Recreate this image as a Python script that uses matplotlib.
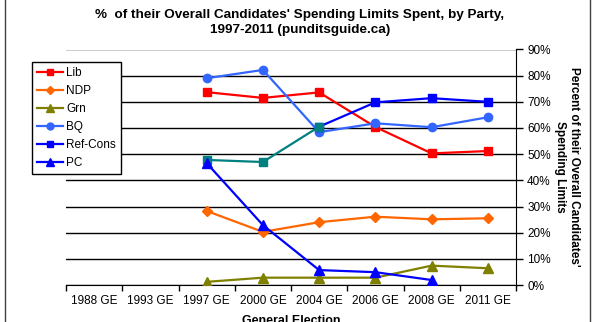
import numpy as np
import matplotlib
matplotlib.use("Agg")
import matplotlib.pyplot as plt
from matplotlib.lines import Line2D
from matplotlib.ticker import FixedLocator, FuncFormatter

plt.rcParams['font.family'] = ['Liberation Sans', 'DejaVu Sans']

elections = ["1988 GE", "1993 GE", "1997 GE", "2000 GE", "2004 GE", "2006 GE", "2008 GE", "2011 GE"]
nan = np.nan
lib = [nan, nan, 73.7, 71.5, 73.6, 60.4, 50.3, 51.2]
ndp = [nan, nan, 28.3, 20.3, 24.0, 26.1, 25.1, 25.5]
grn = [nan, nan, 1.2, 2.8, 2.8, 2.8, 7.4, 6.4]
bq = [nan, nan, 79.0, 82.2, 58.4, 61.8, 60.3, 64.1]
refcons = [nan, nan, 47.8, 47.0, 60.5, 69.8, 71.4, 70.0]
pc = [nan, nan, 46.6, 22.9, 5.7, 4.9, 1.9, nan]

x = np.arange(len(elections))
W, H = 596, 322
fig = plt.figure(figsize=(W / 100, H / 100), dpi=100)
ax = fig.add_axes([66 / W, 1 - 285 / H, 450 / W, 235.5 / H])

lw = 1.6
ax.plot(x, np.array(lib) / 100, color="#FF0000", lw=lw, marker="s", ms=6, zorder=3)
ax.plot(x, np.array(ndp) / 100, color="#FF6600", lw=lw, marker="D", ms=5, zorder=3)
ax.plot(x, np.array(grn) / 100, color="#808000", lw=lw, marker="^", ms=7, zorder=3)
ax.plot(x, np.array(bq) / 100, color="#3366FF", lw=lw, marker="o", ms=6, zorder=3)
# Reform years in teal, Conservative years in blue
rc = np.array(refcons) / 100
ax.plot(x[4:], rc[4:], color="#0000FF", lw=lw, marker="s", ms=6, zorder=3)
ax.plot(x[2:5], rc[2:5], color="#008080", lw=lw, marker="s", ms=6, zorder=3)
ax.plot(x, np.array(pc) / 100, color="#0000FF", lw=lw, marker="^", ms=7, zorder=3)

ax.set_xlim(-0.5, len(elections) - 0.5)
ax.set_ylim(0, 0.9)
ax.set_xticks(x)
ax.set_xticklabels(elections, fontsize=8.5)
ax.xaxis.set_minor_locator(FixedLocator(np.arange(-0.5, len(elections), 1)))
ax.tick_params(axis="x", which="major", length=0, pad=7)
ax.tick_params(axis="x", which="minor", length=4, width=1, color="black", direction="out")

ax.yaxis.tick_right()
ax.set_yticks(np.arange(0, 0.91, 0.1))
ax.yaxis.set_major_formatter(FuncFormatter(lambda v, p: f"{v * 100:.0f}%"))
ax.tick_params(axis="y", length=5, width=1, direction="out", labelsize=8.5, pad=3)
ax.grid(axis="y", color="black", lw=1)
ax.set_axisbelow(True)

for s in ["left", "top"]:
    ax.spines[s].set_visible(False)
ax.spines["right"].set_color("black")
ax.spines["bottom"].set_color("black")

fig.text(300 / W, 1 - 22.5 / H, "%  of their Overall Candidates' Spending Limits Spent, by Party,\n1997-2011 (punditsguide.ca)",
         ha="center", va="center", fontsize=9.7, fontweight="bold", linespacing=1.3)
fig.text(567 / W, 1 - 167 / H, "Percent of their Overall Candidates'\nSpending Limits",
         rotation=-90, ha="center", va="center", fontsize=8.5, fontweight="bold", multialignment="center")
fig.text(291 / W, 1 - 315 / H, "General Election", ha="center", va="top", fontsize=9, fontweight="bold")

handles = [
    Line2D([], [], color="#FF0000", lw=lw, marker="s", ms=5),
    Line2D([], [], color="#FF6600", lw=lw, marker="D", ms=4),
    Line2D([], [], color="#808000", lw=lw, marker="^", ms=6),
    Line2D([], [], color="#3366FF", lw=lw, marker="o", ms=5),
    Line2D([], [], color="#0000FF", lw=lw, marker="s", ms=5),
    Line2D([], [], color="#0000FF", lw=lw, marker="^", ms=6),
]
labels = ["Lib", "NDP", "Grn", "BQ", "Ref-Cons", "PC"]
leg = fig.legend(handles, labels, loc="upper left", bbox_to_anchor=(32 / W, 1 - 62 / H),
                 fontsize=8.5, frameon=True, fancybox=False, framealpha=1, edgecolor="black",
                 handlelength=2.2, handletextpad=0.3, labelspacing=0.52, borderpad=0.4, borderaxespad=0)
leg.get_frame().set_linewidth(1)

# outer chart border
fig.add_artist(Line2D([5 / W, 5 / W], [0, 1], color="#404040", lw=1, transform=fig.transFigure))
fig.add_artist(Line2D([590 / W, 590 / W], [0, 1], color="#404040", lw=1, transform=fig.transFigure))

fig.savefig("out.png", dpi=100)
